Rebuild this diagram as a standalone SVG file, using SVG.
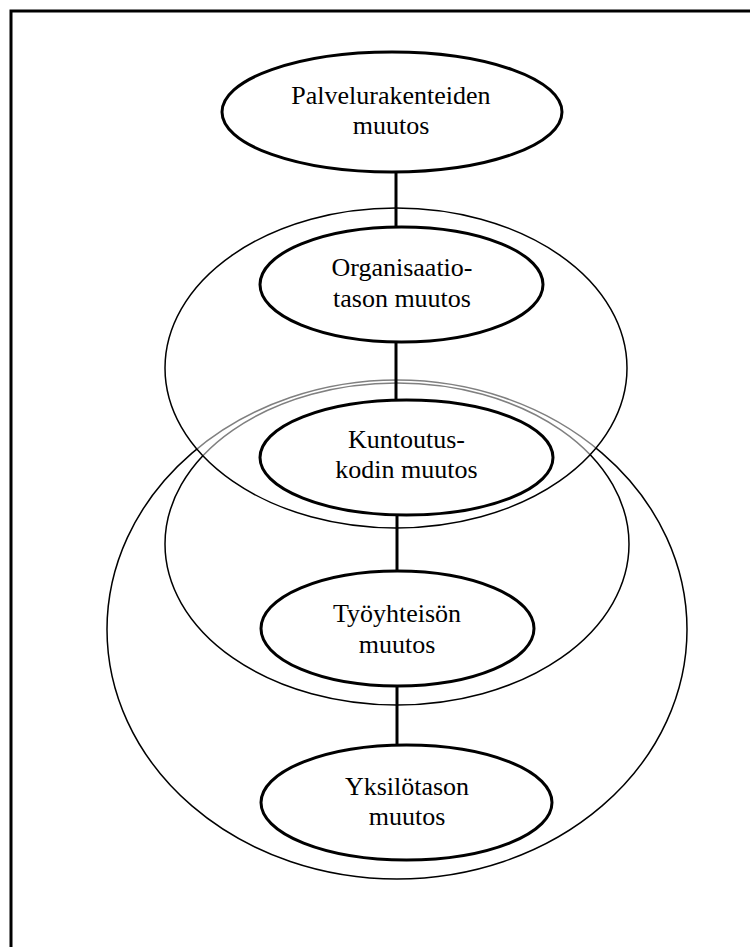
<svg xmlns="http://www.w3.org/2000/svg" width="750" height="947" viewBox="0 0 750 947">
<style>
.frame{fill:none;stroke:#000;stroke-width:3}
.zone{fill:none;stroke:#000;stroke-width:1.5}
.zoneTop{fill:#fff;fill-opacity:0.5;stroke:#000;stroke-width:1.5}
.node{fill:#fff;stroke:#000;stroke-width:3}
.conn{stroke:#000;stroke-width:3;fill:none}
text{font-family:"Liberation Serif","Times New Roman",serif;font-size:26px;fill:#000;text-anchor:middle}
</style>
<rect class="frame" x="11" y="11" width="900" height="1000"/>
<g id="zones">
<ellipse id="zone-outer" class="zone" cx="397" cy="629.5" rx="290" ry="249.5"/>
<ellipse id="zone-middle" class="zone" cx="397" cy="544" rx="232" ry="161"/>
<ellipse id="zone-upper" class="zoneTop" cx="396" cy="368" rx="231" ry="160"/>
</g>
<g id="connectors">
<line class="conn" x1="396" y1="172" x2="396" y2="228"/>
<line class="conn" x1="396" y1="341" x2="396" y2="401"/>
<line class="conn" x1="397" y1="514" x2="397" y2="572"/>
<line class="conn" x1="397" y1="685" x2="397" y2="746"/>
</g>
<g id="n1">
<ellipse class="node" cx="392" cy="112" rx="170" ry="60"/>
<text x="391" y="104">Palvelurakenteiden</text>
<text x="391" y="134">muutos</text>
</g>
<g id="n2">
<ellipse class="node" cx="401.5" cy="284.5" rx="141.5" ry="57.5"/>
<text x="402" y="276">Organisaatio-</text>
<text x="402" y="307">tason muutos</text>
</g>
<g id="n3">
<ellipse class="node" cx="406.5" cy="457.5" rx="146.5" ry="57.5"/>
<text x="406.5" y="448">Kuntoutus-</text>
<text x="406.5" y="478">kodin muutos</text>
</g>
<g id="n4">
<ellipse class="node" cx="397.5" cy="628.5" rx="136.5" ry="57.5"/>
<text x="397" y="622">Työyhteisön</text>
<text x="397" y="653">muutos</text>
</g>
<g id="n5">
<ellipse class="node" cx="406.5" cy="802.5" rx="145.5" ry="57.5"/>
<text x="407" y="795">Yksilötason</text>
<text x="407" y="825">muutos</text>
</g>
</svg>
